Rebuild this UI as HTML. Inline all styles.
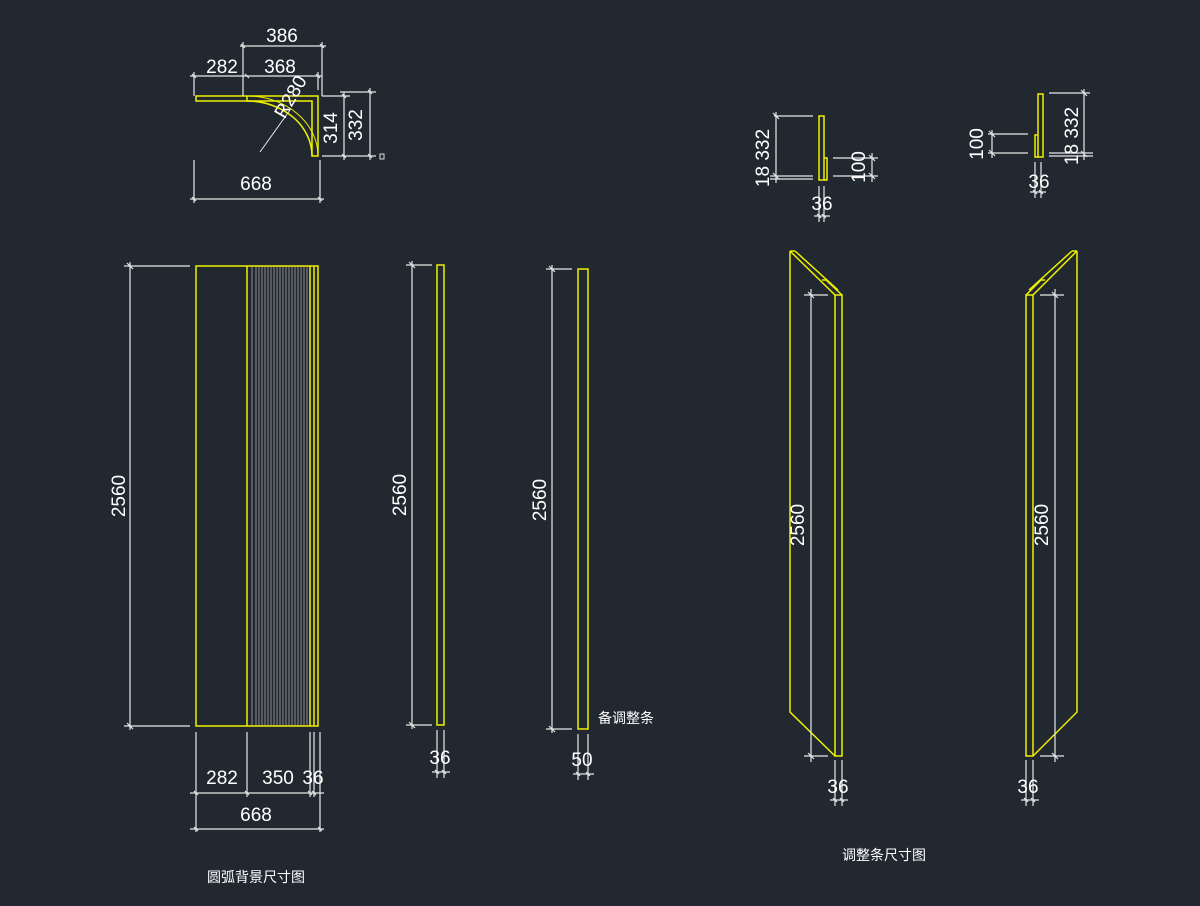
<!DOCTYPE html>
<html><head><meta charset="utf-8"><style>
html,body{margin:0;padding:0;background:#212830;}
svg{display:block}
text{font-family:"Liberation Sans","Noto Sans CJK SC",sans-serif;fill:#fff;}
.d{stroke:#e8e8e8;stroke-width:1.2;fill:none}
.y{stroke:#f0f000;stroke-width:1.5;fill:none}
.t{font-size:19px}
</style></head><body>
<svg width="1200" height="906" viewBox="0 0 1200 906">
<rect width="1200" height="906" fill="#212830"/>

<!-- TOP ARC DETAIL -->
<g class="y">
<path d="M196 96 H318 V156 H312 V101 H196 Z"/>
<path d="M247 96 V101"/>
<path d="M247 101 A65 55 0 0 1 312 156"/>
<path d="M247 96 A71 60 0 0 1 318 156" stroke-width="1"/>
</g>
<g class="d">
<path d="M243 42 V96 M322 42 V96 M194 72 V96 M318 72 V90 M240 46 H326 M190 76 H322"/>
<path d="M194 160 V203 M320 160 V203 M190 199 H324"/>
<path d="M322 96 H350 M322 156 H376 M340 92 H376 M344 92 V160 M370 88 V160"/>
<path d="M290 110 L260 152" stroke-width="1"/>
<path d="M241 44 l4 4 M320 44 l4 4 M192 74 l4 4 M245 74 l4 4 M316 74 l4 4 M192 197 l4 4 M318 197 l4 4 M342 94 l4 4 M342 154 l4 4 M368 90 l4 4 M368 154 l4 4"/>
</g>
<rect x="380" y="154" width="4" height="5" fill="none" stroke="#ddd" stroke-width="1"/>
<text class="t" x="282" y="42" text-anchor="middle">386</text>
<text class="t" x="222" y="73" text-anchor="middle">282</text>
<text class="t" x="280" y="73" text-anchor="middle">368</text>
<text class="t" x="256" y="190" text-anchor="middle">668</text>
<text class="t" x="0" y="0" text-anchor="middle" transform="translate(337,128) rotate(-90)">314</text>
<text class="t" x="0" y="0" text-anchor="middle" transform="translate(362,125) rotate(-90)">332</text>
<text class="t" x="0" y="0" text-anchor="middle" transform="translate(296,100) rotate(-60)">R280</text>

<!-- LEFT BIG PANEL -->
<g stroke="#8a8a8a" stroke-width="1">
<path d="M252 266V726M256 266V726M259 266V726M262 266V726M265 266V726M268 266V726M271 266V726M274 266V726M277 266V726M280 266V726M283 266V726M286 266V726M289 266V726M292 266V726M295 266V726M298 266V726M301 266V726M304 266V726M307 266V726"/>
</g>
<g class="y">
<rect x="196" y="266" width="122" height="460"/>
<path d="M247 266V726 M310 266V726 M314 266V726"/>
</g>
<g class="d">
<path d="M124 266 H190 M124 726 H190 M130 262 V730 M127 263 l6 6 M127 723 l6 6"/>
<path d="M196 732 V832 M247 732 V797 M310 732 V797 M314 732 V797 M320 732 V832 M190 793 H324 M190 829 H324"/>
<path d="M194 791 l4 4 M245 791 l4 4 M308 791 l4 4 M312 791 l4 4 M194 827 l4 4 M318 827 l4 4"/>
</g>
<text class="t" x="0" y="0" text-anchor="middle" transform="translate(125,496) rotate(-90)">2560</text>
<text class="t" x="222" y="784" text-anchor="middle">282</text>
<text class="t" x="278" y="784" text-anchor="middle">350</text>
<text class="t" x="313" y="784" text-anchor="middle">36</text>
<text class="t" x="256" y="821" text-anchor="middle">668</text>
<text x="256" y="882" text-anchor="middle" font-size="14">圆弧背景尺寸图</text>

<!-- PANEL 2 -->
<rect class="y" x="437" y="265" width="7" height="460"/>
<g class="d">
<path d="M406 265 H432 M406 725 H432 M412 261 V729 M409 262 l6 6 M409 722 l6 6"/>
<path d="M437 730 V778 M444 730 V778 M432 772 H450 M435 770 l4 4 M442 770 l4 4"/>
</g>
<text class="t" x="0" y="0" text-anchor="middle" transform="translate(406,495) rotate(-90)">2560</text>
<text class="t" x="440" y="764" text-anchor="middle">36</text>

<!-- PANEL 3 -->
<rect class="y" x="578" y="269" width="10" height="460"/>
<g class="d">
<path d="M546 269 H572 M546 729 H572 M552 265 V733 M549 266 l6 6 M549 726 l6 6"/>
<path d="M578 734 V780 M588 734 V780 M573 774 H594 M576 772 l4 4 M586 772 l4 4"/>
</g>
<text class="t" x="0" y="0" text-anchor="middle" transform="translate(546,500) rotate(-90)">2560</text>
<text class="t" x="582" y="766" text-anchor="middle">50</text>
<text x="598" y="723" font-size="14">备调整条</text>

<!-- SLANT PANEL 1 -->
<g class="y">
<path d="M790 251 V712 L835 756"/>
<path d="M790 251 L835 295 M795 251 L838 290 M790 251 H795"/>
<path d="M822 280 L826 280 L842 295"/>
<rect x="835" y="295" width="7" height="461"/>
</g>
<g class="d">
<path d="M804 295 H828 M804 756 H828 M811 289 V762 M808 292 l6 6 M808 753 l6 6"/>
<path d="M835 760 V806 M842 760 V806 M830 800 H848 M833 798 l4 4 M840 798 l4 4"/>
</g>
<text class="t" x="0" y="0" text-anchor="middle" transform="translate(804,525) rotate(-90)">2560</text>
<text class="t" x="838" y="793" text-anchor="middle">36</text>

<!-- SLANT PANEL 2 -->
<g class="y">
<path d="M1077 251 V712 L1033 756"/>
<path d="M1077 251 L1033 295 M1072 251 L1029 290 M1077 251 H1072"/>
<path d="M1045 280 L1041 280 L1026 295"/>
<rect x="1026" y="295" width="7" height="461"/>
</g>
<g class="d">
<path d="M1040 295 H1064 M1040 756 H1064 M1055 289 V762 M1052 292 l6 6 M1052 753 l6 6"/>
<path d="M1026 760 V806 M1033 760 V806 M1021 800 H1039 M1024 798 l4 4 M1031 798 l4 4"/>
</g>
<text class="t" x="0" y="0" text-anchor="middle" transform="translate(1048,525) rotate(-90)">2560</text>
<text class="t" x="1028" y="793" text-anchor="middle">36</text>
<text x="884" y="860" text-anchor="middle" font-size="14">调整条尺寸图</text>

<!-- SMALL DETAIL 1 -->
<g class="y" stroke-width="1.3">
<rect x="819" y="116" width="5" height="64"/>
<path d="M824 158 H827 V180 H824"/>
</g>
<g class="d">
<path d="M774 116 H813 M770 176 H813 M770 179 H813 M776 112 V183 M773 113 l6 6 M773 173 l6 6"/>
<path d="M833 158 H878 M833 176 H878 M872 153 V182 M869 155 l6 6 M869 173 l6 6"/>
<path d="M819 186 V222 M824 186 V222 M814 216 H830 M817 214 l4 4 M822 214 l4 4"/>
</g>
<text class="t" x="0" y="0" text-anchor="middle" transform="translate(769,158) rotate(-90)">18 332</text>
<text class="t" x="0" y="0" text-anchor="middle" transform="translate(865,167) rotate(-90)">100</text>
<text class="t" x="822" y="210" text-anchor="middle">36</text>

<!-- SMALL DETAIL 2 -->
<g class="y" stroke-width="1.3">
<rect x="1038" y="94" width="5" height="63"/>
<path d="M1038 135 H1035 V157 H1038"/>
</g>
<g class="d">
<path d="M1049 93 H1090 M1049 153 H1093 M1049 156 H1093 M1084 89 V160 M1081 90 l6 6 M1081 151 l6 6"/>
<path d="M988 134 H1028 M988 153 H1028 M992 130 V158 M989 131 l6 6 M989 150 l6 6"/>
<path d="M1035 162 V198 M1041 162 V198 M1030 192 H1046 M1033 190 l4 4 M1039 190 l4 4"/>
</g>
<text class="t" x="0" y="0" text-anchor="middle" transform="translate(1078,136) rotate(-90)">18 332</text>
<text class="t" x="0" y="0" text-anchor="middle" transform="translate(983,144) rotate(-90)">100</text>
<text class="t" x="1039" y="188" text-anchor="middle">36</text>
</svg>
</body></html>
